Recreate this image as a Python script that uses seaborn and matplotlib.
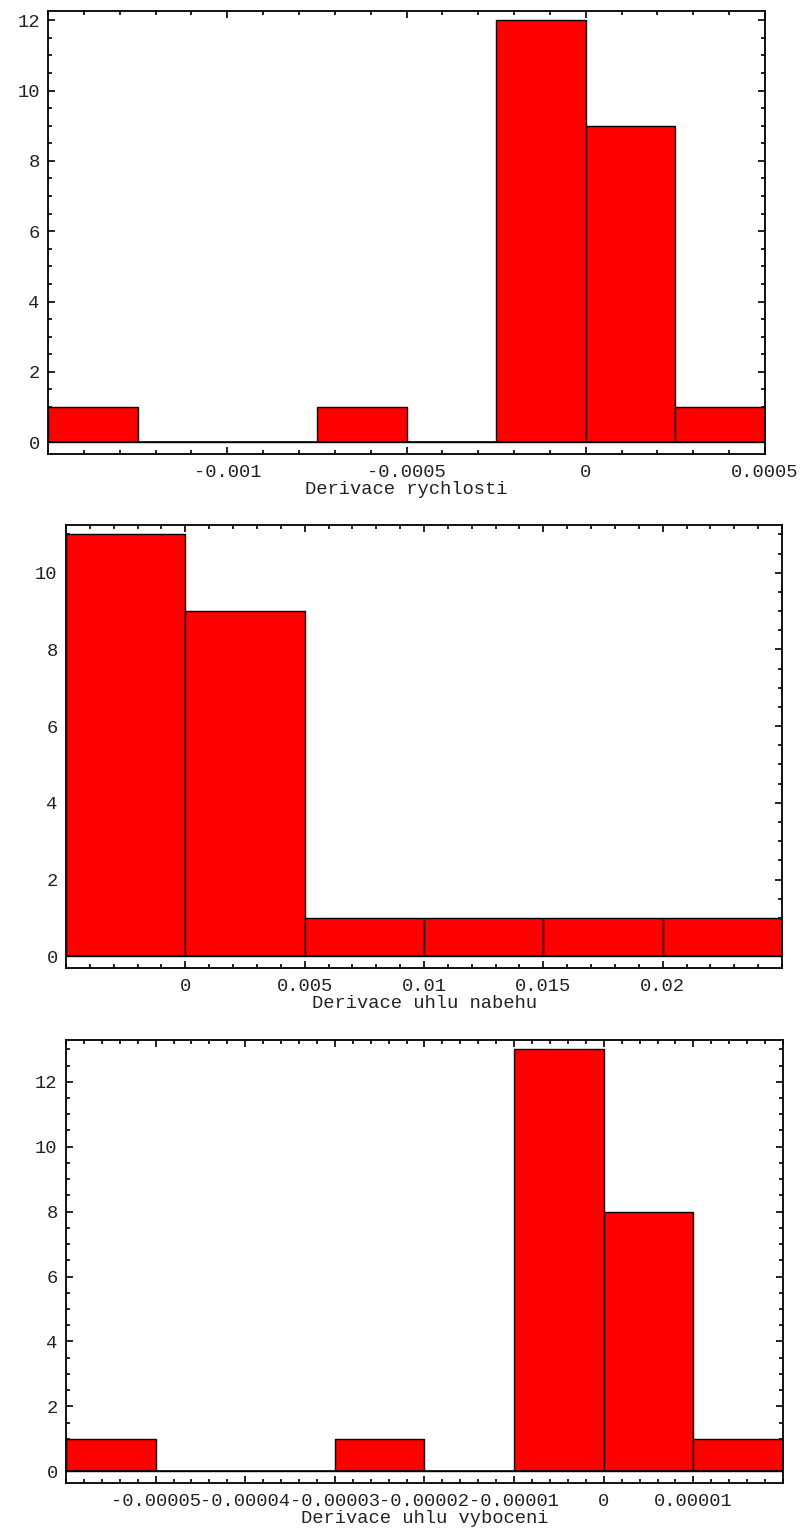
import numpy as np
import pandas as pd
import matplotlib
matplotlib.use("Agg")
import matplotlib.pyplot as plt
import seaborn as sns
from matplotlib.ticker import MultipleLocator

# histogram bin edges and counts
speed_edges = [-0.0015, -0.00125, -0.001, -0.00075, -0.0005, -0.00025, 0.0, 0.00025, 0.0005]
speed_counts = [1, 0, 0, 1, 0, 12, 9, 1]
speed_ticks = [-0.001, -0.0005, 0.0, 0.0005]
speed_labels = ["-0.001", "-0.0005", "0", "0.0005"]

attack_edges = [-0.005, 0.0, 0.005, 0.01, 0.015, 0.02, 0.025]
attack_counts = [11, 9, 1, 1, 1, 1]
attack_ticks = [0.0, 0.005, 0.01, 0.015, 0.02]
attack_labels = ["0", "0.005", "0.01", "0.015", "0.02"]

yaw_edges = [-6e-5, -5e-5, -4e-5, -3e-5, -2e-5, -1e-5, 0.0, 1e-5, 2e-5]
yaw_counts = [1, 0, 0, 1, 0, 13, 8, 1]
yaw_ticks = [-5e-5, -4e-5, -3e-5, -2e-5, -1e-5, 0.0, 1e-5]
yaw_labels = ["-0.00005", "-0.00004", "-0.00003", "-0.00002", "-0.00001", "0", "0.00001"]

titles = ["Derivace rychlosti", "Derivace uhlu nabehu", "Derivace uhlu vyboceni"]

sns.set_theme(style="ticks")
plt.rcParams["font.family"] = ["Liberation Mono", "DejaVu Sans Mono"]
plt.rcParams["font.size"] = 13.5

fig = plt.figure(figsize=(8.02, 15.30), dpi=100)
# axes rectangles in figure fractions (left, bottom, width, height)
rects = [
    (0.0599, 0.7033, 0.8940, 0.2895),
    (0.0823, 0.3673, 0.8928, 0.2895),
    (0.0823, 0.0307, 0.8940, 0.2895),
]
panels = [
    (speed_edges, speed_counts, speed_ticks, speed_labels, 0.0001),
    (attack_edges, attack_counts, attack_ticks, attack_labels, 0.001),
    (yaw_edges, yaw_counts, yaw_ticks, yaw_labels, 0.000002),
]

for rect, (edges, counts, ticks, labels, minor), title in zip(rects, panels, titles):
    ax = fig.add_axes(rect)
    e = np.array(edges)
    df = pd.DataFrame({"x": (e[:-1] + e[1:]) / 2, "n": counts})
    sns.histplot(data=df, x="x", weights="n", bins=list(edges), stat="count",
                 color="#ff0000", edgecolor="black", linewidth=1.0, alpha=1.0, ax=ax)
    ax.axhline(0, color="black", linewidth=1.2, zorder=3)

    top = max(counts)
    ax.set_xlim(edges[0], edges[-1])
    ax.set_ylim(-0.028 * top, 1.022 * top)

    ax.set_xticks(ticks)
    ax.set_xticklabels(labels)
    ax.xaxis.set_minor_locator(MultipleLocator(minor))
    ax.set_yticks(np.arange(0, top + 0.01, 2))
    ax.yaxis.set_minor_locator(MultipleLocator(0.5))

    ax.tick_params(which="both", direction="in", top=True, right=True,
                   width=1.2, color="black", labelsize=13.5, labelcolor="#222222")
    ax.tick_params(which="major", length=5)
    ax.tick_params(which="minor", length=3)
    ax.tick_params(axis="x", which="major", pad=7)
    ax.tick_params(axis="y", which="major", pad=6)
    for side in ax.spines.values():
        side.set_linewidth(1.3)
        side.set_color("black")

    ax.set_xlabel(title, fontsize=13.5, labelpad=0, color="#222222")
    ax.set_ylabel("")
    ax.set_facecolor("white")

fig.savefig("out.png", dpi=100, facecolor="white")
